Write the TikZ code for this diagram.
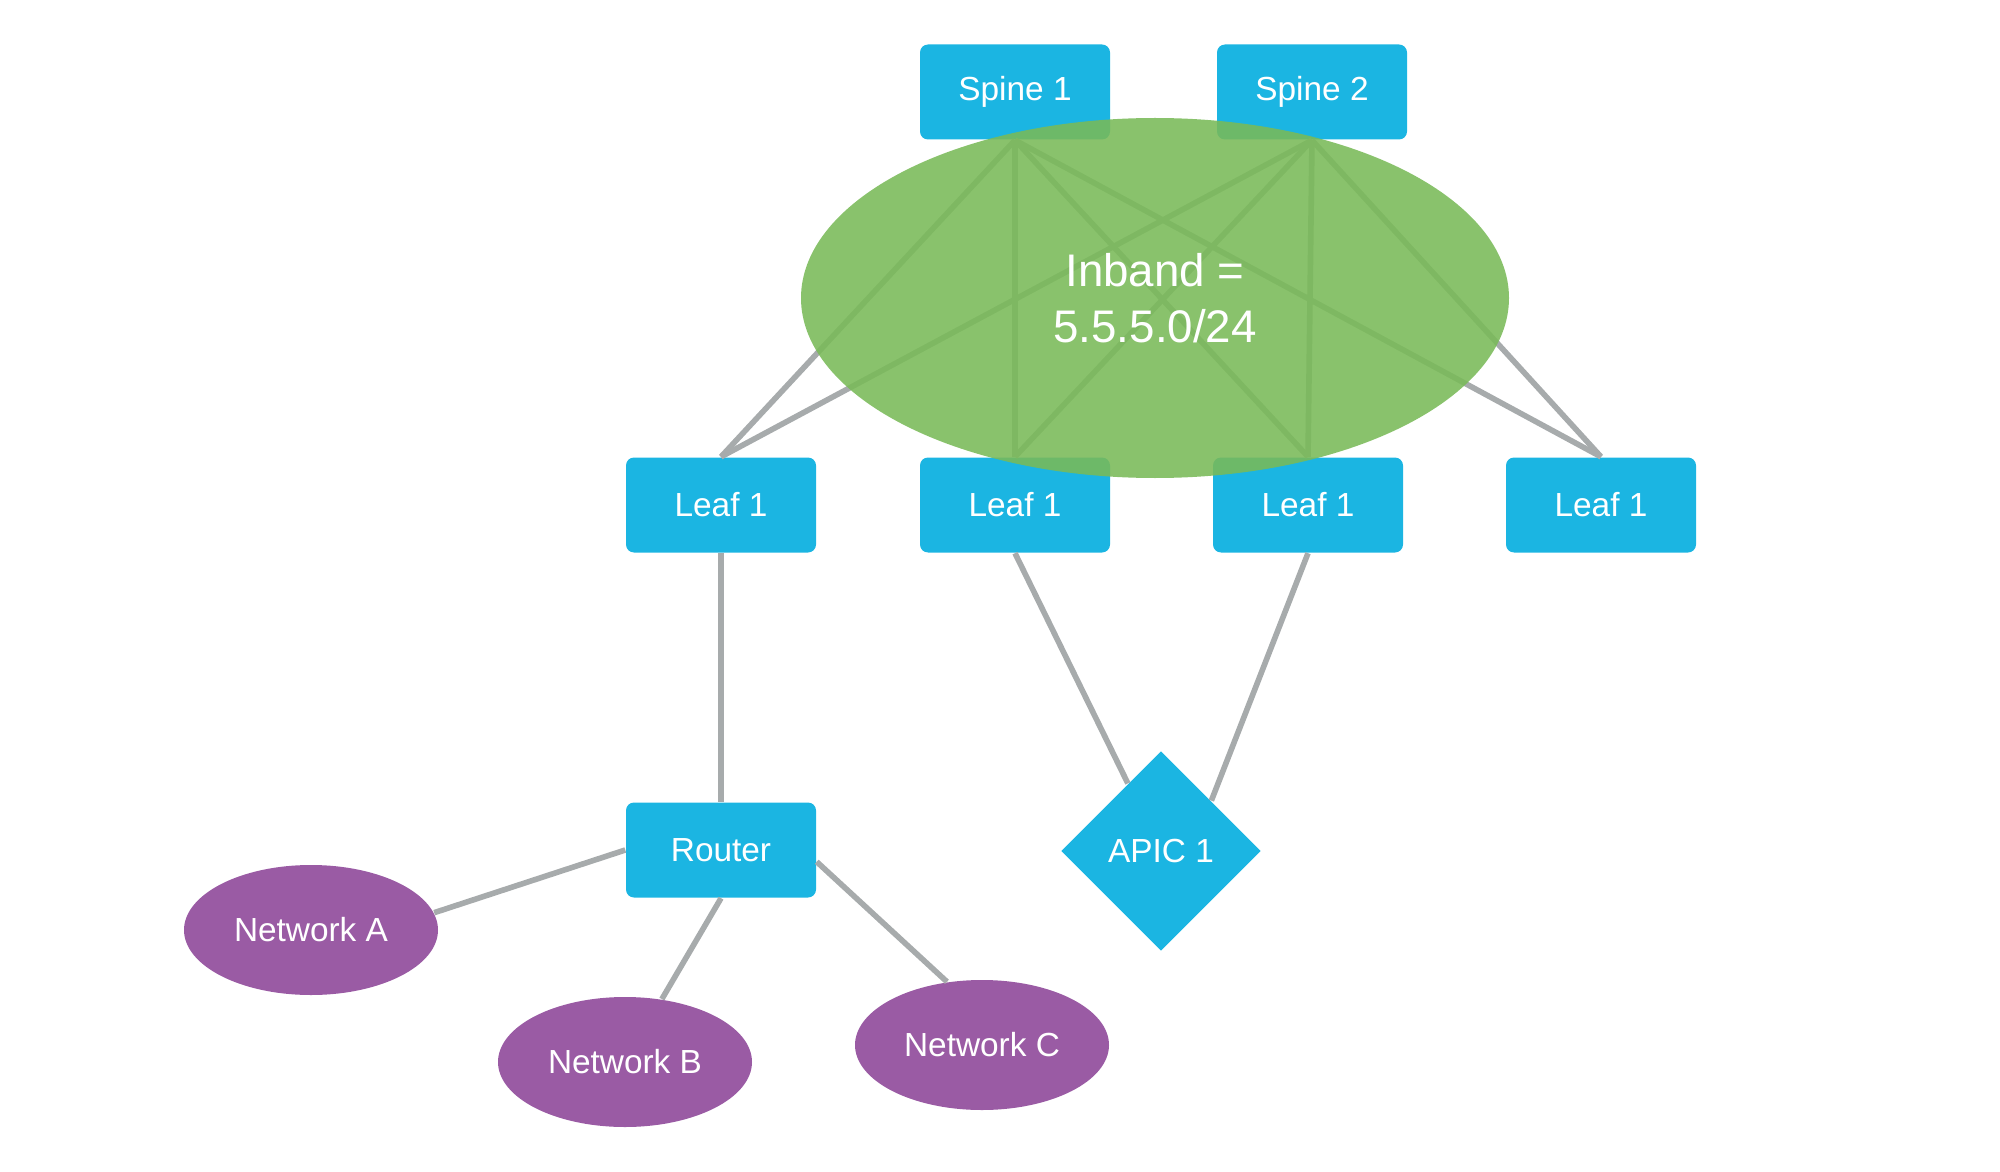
\documentclass[tikz,border=0pt]{standalone}
\usepackage{fontspec}
\setmainfont{Liberation Sans}
\usepackage{tikz}
\usetikzlibrary{shapes.geometric}
\definecolor{aciblue}{RGB}{27,181,226}
\definecolor{acipurple}{RGB}{154,91,164}
\definecolor{acigreen}{RGB}{121,186,88}
\definecolor{linkgray}{RGB}{167,171,172}
\tikzset{switchbox/.style={rectangle, rounded corners=0.08cm, fill=aciblue, text=white, minimum width=1.9cm, minimum height=0.95cm, font=\fontsize{9.5}{11}\selectfont}}
\tikzset{netblob/.style={ellipse, fill=acipurple, text=white, minimum width=2.54cm, minimum height=1.3cm, font=\fontsize{9.5}{11}\selectfont}}
\tikzset{link/.style={draw=linkgray, line width=1.6pt}}

\begin{document}
\begin{tikzpicture}
            \useasboundingbox (0, 0) rectangle (20, 11.71);
            \node[switchbox] (spine1) at (10.15, 10.79) {Spine 1};
            \node[switchbox] (spine2) at (13.12, 10.79) {Spine 2};
            \foreach \i/\x in {1/7.21, 2/10.15, 3/13.08, 4/16.01} {
                \node[switchbox] (leaf\i) at (\x, 6.66) {Leaf 1};
            }
            \node[switchbox] (router) at (7.21, 3.21) {Router};
            \node[diamond, fill=aciblue, text=white, minimum width=2cm, minimum height=2cm, inner sep=0pt, font=\fontsize{9.5}{11}\selectfont] (apic) at (11.61, 3.20) {APIC 1};
            \node[netblob] (neta) at (3.11, 2.41) {Network A};
            \node[netblob] (netb) at (6.25, 1.09) {Network B};
            \node[netblob] (netc) at (9.82, 1.26) {Network C};
            % spine to leaf mesh
            \foreach \s in {1, 2} {
                \foreach \l in {1, 2, 3, 4} {
                    \draw[link] (spine\s.south) -- (leaf\l.north);
                }
            }
            \draw[link] (leaf1.south) -- (router.north);
            \draw[link] (leaf2.south) -- (apic);
            \draw[link] (leaf3.south) -- (apic.north east);
            \draw[link] (router.west) -- (neta.8);
            \draw[link] (router.south) -- (netb);
            \draw[link] (router.-7) -- (netc.119);
            % inband subnet on top
            \node[ellipse, fill=acigreen, fill opacity=0.88, text opacity=1, text=white, minimum width=7.08cm, minimum height=3.6cm, align=center, font=\fontsize{13}{16}\selectfont] (inband) at (11.55, 8.73) {Inband =\\5.5.5.0/24};
        \end{tikzpicture}
\end{document}
